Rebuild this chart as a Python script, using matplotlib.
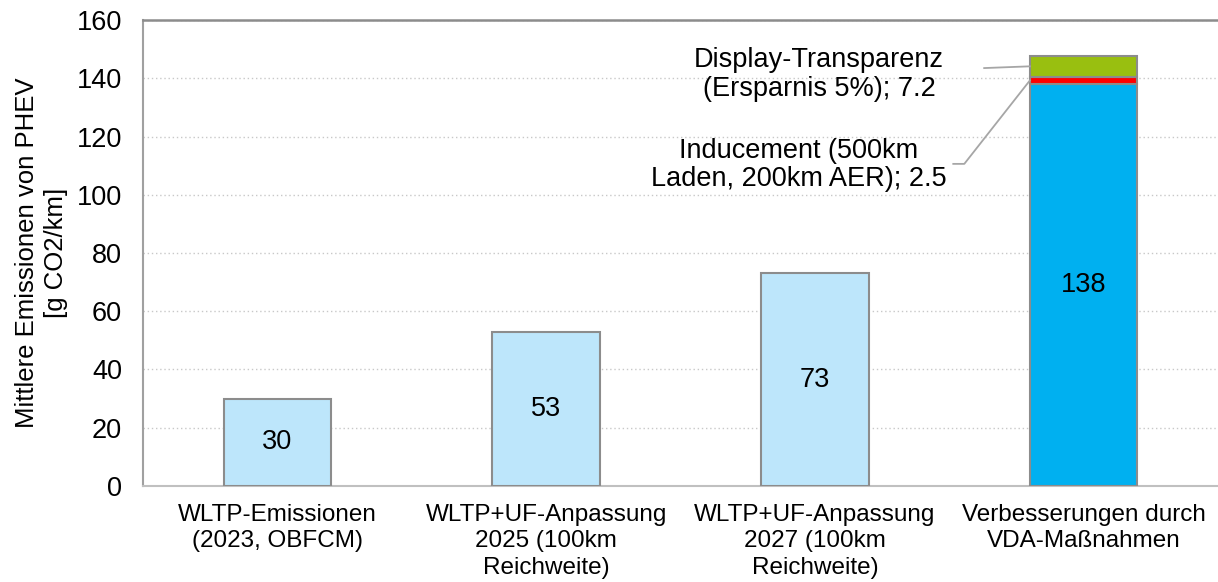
import matplotlib
matplotlib.use("Agg")
import matplotlib.pyplot as plt
import numpy as np

plt.rcParams['font.family'] = ['Liberation Sans', 'DejaVu Sans']

# data
categories = ["WLTP-Emissionen\n(2023, OBFCM)",
              "WLTP+UF-Anpassung\n2025 (100km\nReichweite)",
              "WLTP+UF-Anpassung\n2027 (100km\nReichweite)",
              "Verbesserungen durch\nVDA-Maßnahmen"]
base_values = [30, 53, 73, 138]
inducement = 2.5
display = 7.2
yticks = [0, 20, 40, 60, 80, 100, 120, 140, 160]

light_blue = '#BDE6FB'
blue = '#00B0F0'
red = '#FF0000'
green = '#99BF10'
edge = '#8C8C8C'

fig = plt.figure(figsize=(12.18, 5.82), dpi=100)
ax = fig.add_axes([0.1174, 0.165, 0.8826, 0.8006])

x = np.arange(len(categories))
w = 0.4
colors = [light_blue, light_blue, light_blue, blue]
ax.bar(x, base_values, w, color=colors, edgecolor=edge, linewidth=1.5, zorder=3)
#stacked segments on the last bar
ax.bar(x[3], inducement, w, bottom=base_values[3], color=red, edgecolor=edge, linewidth=1.5, zorder=3)
ax.bar(x[3], display, w, bottom=base_values[3] + inducement, color=green, edgecolor=edge, linewidth=1.5, zorder=3)

for xi, v in zip(x, base_values):
    ax.text(xi, v / 2, str(v), ha='center', va='center', fontsize=19.5, zorder=4)

# labels for the small segments with leader lines
lc = '#A6A6A6'
bar_left = x[3] - w / 2
y_disp = base_values[3] + inducement + display / 2
y_ind = base_values[3] + inducement / 2
ax.text(2.016, 141.3, "Display-Transparenz\n(Ersparnis 5%); 7.2", ha='center', va='center',
        fontsize=19.5, linespacing=1.12)
ax.plot([2.63, bar_left], [143.5, y_disp], color=lc, lw=1.3, zorder=4)
ax.text(1.94, 110.2, "Inducement (500km\nLaden, 200km AER); 2.5", ha='center', va='center',
        fontsize=19.5, linespacing=1.12)
ax.plot([2.515, 2.556, bar_left], [110.6, 110.6, y_ind], color=lc, lw=1.3, zorder=4)

ax.set_xlim(-0.5, 3.5)
ax.set_ylim(0, 160)
ax.set_yticks(yticks)
ax.set_xticks(x)
ax.set_xticklabels(categories, fontsize=17.5, linespacing=1.25)
ax.tick_params(axis='y', labelsize=19.5, length=0, pad=15)
ax.tick_params(axis='x', length=0, pad=13)
ax.set_ylabel("Mittlere Emissionen von PHEV\n[g CO2/km]", fontsize=18.5, labelpad=6, linespacing=1.3)

ax.yaxis.grid(True, linestyle=(0, (1, 2)), color='#C8C8C8', lw=1, zorder=0)
ax.spines['right'].set_visible(False)
ax.spines['top'].set_color('#8C8C8C')
ax.spines['top'].set_linewidth(1.8)
ax.spines['left'].set_color('#A0A0A0')
ax.spines['left'].set_linewidth(1.5)
ax.spines['bottom'].set_color('#C0C0C0')
ax.spines['bottom'].set_linewidth(1.5)

fig.savefig('out.png', dpi=100)
